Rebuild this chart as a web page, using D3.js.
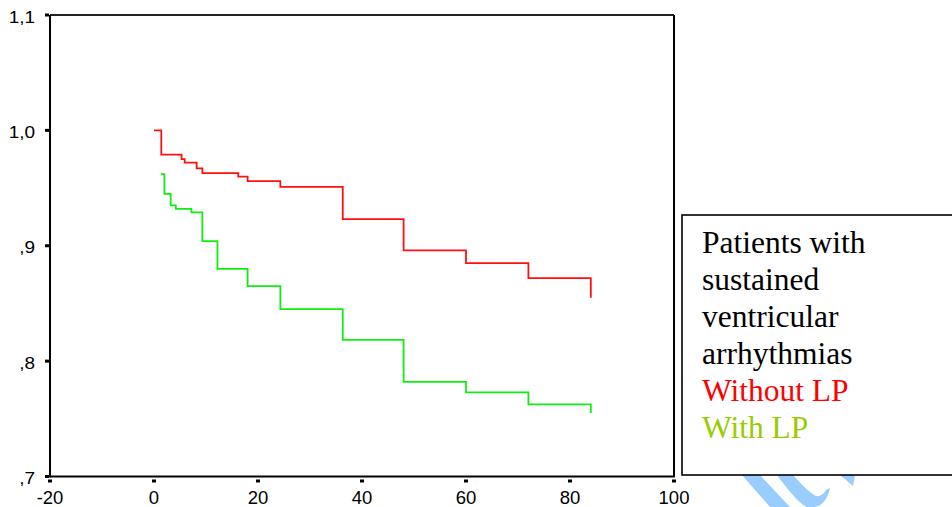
<!DOCTYPE html>
<html>
<head>
<meta charset="utf-8">
<script src="https://cdn.jsdelivr.net/npm/d3@7"></script>
<style>
  body { margin: 0; background: #fff; }
  svg { display: block; }
</style>
</head>
<body>
<div id="chart"></div>
<script>
//data (months vs cumulative survival)
var withoutTimes = [0, 1.4, 5.3, 5.9, 8.2, 9.3, 16.2, 18, 24.3, 36.3, 48, 60, 72, 84];
var withoutValues = [1.0, 0.979, 0.975, 0.972, 0.967, 0.963, 0.960, 0.956, 0.951, 0.923, 0.896, 0.885, 0.872, 0.855];
var withTimes = [1.3, 2.0, 3.2, 4.2, 7.2, 9.3, 12.2, 18, 24.3, 36.3, 48, 60, 72, 84];
var withValues = [0.962, 0.945, 0.935, 0.932, 0.929, 0.904, 0.880, 0.865, 0.845, 0.8185, 0.782, 0.773, 0.7625, 0.755];
var xTicks = [-20, 0, 20, 40, 60, 80, 100];
var yTicks = [0.7, 0.8, 0.9, 1.0, 1.1];
var yTickLabels = [",7", ",8", ",9", "1,0", "1,1"];
var legendLines = ["Patients with", "sustained", "ventricular", "arrhythmias"];
var seriesNames = ["Without LP", "With LP"];

var svgWidth = 952;
var svgHeight = 507;

var svg = d3.select("#chart")
    .append("svg")
    .attr("width", svgWidth)
    .attr("height", svgHeight);

//plot frame
var plotLeft = 50, plotRight = 674, plotTop = 15, plotBottom = 476.5;

var x = d3.scaleLinear().domain([-20, 100]).range([plotLeft, plotRight]);
var y = d3.scaleLinear().domain([0.7, 1.1]).range([plotBottom, plotTop]);

//watermark shapes (light blue)
var wm = svg.append("g").attr("fill", "#99ccff");
wm.append("path").attr("d", "M742,475 L760,475 L790,507 L770,507 Z");
wm.append("path").attr("d", "M777,475 L793,475 Q808,492 816,496 Q822,497 826,490 L830,488 Q826,505 815,507 L806,507 Q795,500 777,475 Z");
wm.append("path").attr("d", "M840,475 L855,475 L853,486 Z");

//box lines
svg.append("line").attr("x1", plotLeft).attr("x2", plotRight).attr("y1", plotTop).attr("y2", plotTop)
    .attr("stroke", "#222").attr("stroke-width", 1.8);
svg.append("line").attr("x1", plotRight).attr("x2", plotRight).attr("y1", plotTop).attr("y2", plotBottom)
    .attr("stroke", "#000").attr("stroke-width", 2);
svg.append("line").attr("x1", plotLeft).attr("x2", plotLeft).attr("y1", plotTop).attr("y2", plotBottom + 1)
    .attr("stroke", "#000").attr("stroke-width", 2);
svg.append("line").attr("x1", plotLeft).attr("x2", plotRight + 1).attr("y1", plotBottom).attr("y2", plotBottom)
    .attr("stroke", "#000").attr("stroke-width", 2);

//x ticks
svg.selectAll(".xtick")
    .data(xTicks)
    .enter()
    .append("rect")
    .attr("x", d => x(d) - 2)
    .attr("y", plotBottom + 3)
    .attr("width", 4)
    .attr("height", 3)
    .attr("fill", "#000");

svg.selectAll(".xlabel")
    .data(xTicks)
    .enter()
    .append("text")
    .attr("x", d => x(d))
    .attr("y", plotBottom + 27)
    .attr("text-anchor", "middle")
    .attr("font-family", "Liberation Sans, Arial, sans-serif")
    .attr("font-size", 18.5)
    .attr("fill", "#000")
    .text(d => d);

//y ticks
svg.selectAll(".ytick")
    .data(yTicks)
    .enter()
    .append("rect")
    .attr("x", plotLeft - 5)
    .attr("y", d => y(d) - 1.5)
    .attr("width", 4)
    .attr("height", 3)
    .attr("fill", "#000");

svg.selectAll(".ylabel")
    .data(yTicks)
    .enter()
    .append("text")
    .attr("transform", d => `translate(35, ${y(d) + 7.5}) scale(1.15, 1)`)
    .attr("text-anchor", "end")
    .attr("font-family", "Liberation Sans, Arial, sans-serif")
    .attr("font-size", 16.5)
    .attr("fill", "#000")
    .text((d, i) => yTickLabels[i]);

//survival step lines
var line = d3.line()
    .x(d => x(d[0]))
    .y(d => y(d[1]))
    .curve(d3.curveStepAfter);

var withoutData = withoutTimes.map((t, i) => [t, withoutValues[i]]);
var withData = withTimes.map((t, i) => [t, withValues[i]]);

svg.append("path")
    .datum(withoutData)
    .attr("d", line)
    .attr("fill", "none")
    .attr("stroke", "#ff1010")
    .attr("stroke-width", 1.8);

svg.append("path")
    .datum(withData)
    .attr("d", line)
    .attr("fill", "none")
    .attr("stroke", "#10ee10")
    .attr("stroke-width", 1.8);

//legend box
svg.append("rect")
    .attr("x", 682)
    .attr("y", 215)
    .attr("width", 300)
    .attr("height", 260)
    .attr("fill", "none")
    .attr("stroke", "#000")
    .attr("stroke-width", 1.6);

var legendText = legendLines.map(t => ({ t: t, c: "#000" }))
    .concat([{ t: seriesNames[0], c: "#ff0000" }, { t: seriesNames[1], c: "#99cc00" }]);

svg.selectAll(".legend")
    .data(legendText)
    .enter()
    .append("text")
    .attr("x", 702)
    .attr("y", (d, i) => 253 + i * 37)
    .attr("font-family", "Liberation Serif, Times New Roman, serif")
    .attr("font-size", 31.5)
    .attr("fill", d => d.c)
    .text(d => d.t);
</script>
</body>
</html>
